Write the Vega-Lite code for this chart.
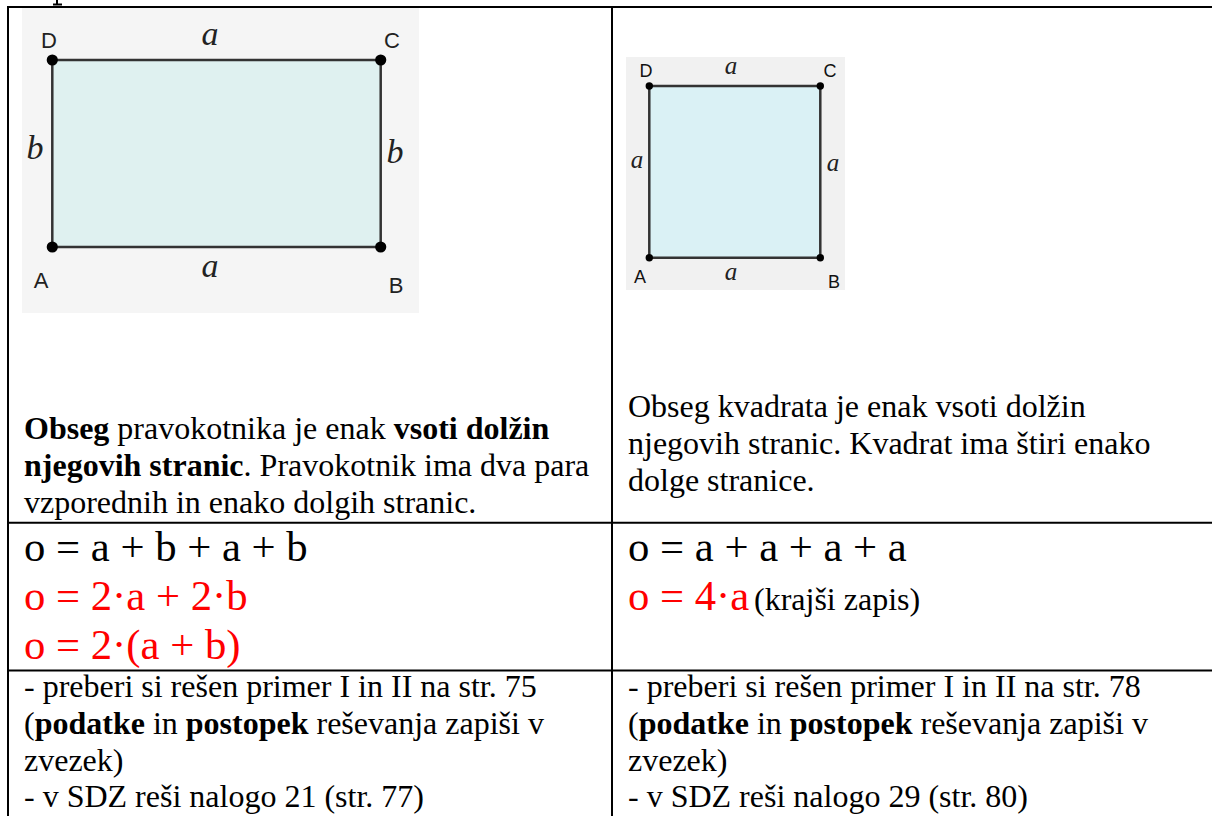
{
  "$schema": "https://vega.github.io/schema/vega-lite/v6.json",
  "width": 1212,
  "height": 816,
  "autosize": {"type": "none"},
  "padding": 0,
  "background": "white",
  "config": {"view": {"stroke": null}},
  "datasets": {
    "back1": [{"x": 22, "x2": 419, "y": 7, "y2": 313}],
    "back2": [{"x": 626, "x2": 845, "y": 57, "y2": 290}],
    "shape1": [{"x": 52.3, "x2": 380.7, "y": 60, "y2": 247}],
    "shape2": [{"x": 649.3, "x2": 820.3, "y": 86, "y2": 257.7}],
    "corners1": [
      {"x": 52.3, "y": 60},
      {"x": 380.7, "y": 60},
      {"x": 52.3, "y": 247},
      {"x": 380.7, "y": 247}
    ],
    "corners2": [
      {"x": 649.3, "y": 86},
      {"x": 820.3, "y": 86},
      {"x": 649.3, "y": 257.7},
      {"x": 820.3, "y": 257.7}
    ],
    "sans1": [
      {"x": 49, "y": 48, "text": "D"},
      {"x": 392, "y": 48, "text": "C"},
      {"x": 41, "y": 288, "text": "A"},
      {"x": 396, "y": 293, "text": "B"}
    ],
    "ital1": [
      {"x": 210, "y": 45, "text": "a"},
      {"x": 210, "y": 277, "text": "a"},
      {"x": 35, "y": 159, "text": "b"},
      {"x": 395, "y": 163, "text": "b"}
    ],
    "sans2": [
      {"x": 646, "y": 77, "text": "D"},
      {"x": 830, "y": 77, "text": "C"},
      {"x": 640, "y": 283, "text": "A"},
      {"x": 834, "y": 288, "text": "B"}
    ],
    "ital2": [
      {"x": 731, "y": 74, "text": "a"},
      {"x": 637, "y": 168, "text": "a"},
      {"x": 833, "y": 171, "text": "a"},
      {"x": 731, "y": 280, "text": "a"}
    ],
    "borders": [
      {"x": 7, "x2": 1212, "y": 7, "y2": 7},
      {"x": 8, "x2": 8, "y": 7, "y2": 816},
      {"x": 612, "x2": 612, "y": 7, "y2": 816},
      {"x": 8, "x2": 1212, "y": 522.7, "y2": 522.7},
      {"x": 8, "x2": 1212, "y": 670.5, "y2": 670.5},
      {"x": 57, "x2": 57, "y": 0, "y2": 5},
      {"x": 53, "x2": 62, "y": 4.5, "y2": 4.5}
    ],
    "body": [
      {"x": 117.3, "y": 439, "text": "pravokotnika je enak"},
      {"x": 243.6, "y": 476, "text": ". Pravokotnik ima dva para"},
      {"x": 24, "y": 513, "text": "vzporednih in enako dolgih stranic."},
      {"x": 628, "y": 417, "text": "Obseg kvadrata je enak vsoti dolžin"},
      {"x": 628, "y": 454, "text": "njegovih stranic. Kvadrat ima štiri enako"},
      {"x": 628, "y": 491, "text": "dolge stranice."},
      {"x": 754, "y": 610, "text": "(krajši zapis)"},
      {"x": 24, "y": 697, "text": "- preberi si rešen primer I in II na str. 75"},
      {"x": 24, "y": 734, "text": "("},
      {"x": 152.9, "y": 734, "text": "in"},
      {"x": 316.5, "y": 734, "text": "reševanja zapiši v"},
      {"x": 24, "y": 771, "text": "zvezek)"},
      {"x": 24, "y": 807, "text": "- v SDZ reši nalogo 21 (str. 77)"},
      {"x": 628, "y": 697, "text": "- preberi si rešen primer I in II na str. 78"},
      {"x": 628, "y": 734, "text": "("},
      {"x": 756.9, "y": 734, "text": "in"},
      {"x": 920.5, "y": 734, "text": "reševanja zapiši v"},
      {"x": 628, "y": 771, "text": "zvezek)"},
      {"x": 628, "y": 807, "text": "- v SDZ reši nalogo 29 (str. 80)"}
    ],
    "bold": [
      {"x": 24, "y": 439, "text": "Obseg"},
      {"x": 393.7, "y": 439, "text": "vsoti dolžin"},
      {"x": 24, "y": 476, "text": "njegovih stranic"},
      {"x": 34.7, "y": 734, "text": "podatke"},
      {"x": 185.8, "y": 734, "text": "postopek"},
      {"x": 638.7, "y": 734, "text": "podatke"},
      {"x": 789.8, "y": 734, "text": "postopek"}
    ],
    "formulaBlack": [
      {"x": 24, "y": 561, "text": "o = a + b + a + b"},
      {"x": 628, "y": 561, "text": "o = a + a + a + a"}
    ],
    "formulaRed": [
      {"x": 24, "y": 610, "text": "o = 2·a + 2·b"},
      {"x": 24, "y": 659, "text": "o = 2·(a + b)"},
      {"x": 628, "y": 610, "text": "o = 4·a"}
    ]
  },
  "encoding": {
    "x": {"field": "x", "type": "quantitative", "scale": {"domain": [0, 1212], "nice": false, "zero": false}, "axis": null},
    "y": {"field": "y", "type": "quantitative", "scale": {"domain": [0, 816], "nice": false, "zero": false, "reverse": true}, "axis": null}
  },
  "layer": [
    {
      "data": {"name": "back1"},
      "mark": {"type": "rect", "color": "#f5f5f5"},
      "encoding": {"x2": {"field": "x2"}, "y2": {"field": "y2"}}
    },
    {
      "data": {"name": "back2"},
      "mark": {"type": "rect", "color": "#f1f1f1"},
      "encoding": {"x2": {"field": "x2"}, "y2": {"field": "y2"}}
    },
    {
      "data": {"name": "shape1"},
      "mark": {"type": "rect", "fill": "#dff1f0", "stroke": "#333333", "strokeWidth": 2.5},
      "encoding": {"x2": {"field": "x2"}, "y2": {"field": "y2"}}
    },
    {
      "data": {"name": "shape2"},
      "mark": {"type": "rect", "fill": "#daf1f5", "stroke": "#333333", "strokeWidth": 2.5},
      "encoding": {"x2": {"field": "x2"}, "y2": {"field": "y2"}}
    },
    {
      "data": {"name": "corners1"},
      "mark": {"type": "circle", "color": "#000000", "opacity": 1, "size": 125}
    },
    {
      "data": {"name": "corners2"},
      "mark": {"type": "circle", "color": "#000000", "opacity": 1, "size": 55}
    },
    {
      "data": {"name": "sans1"},
      "mark": {"type": "text", "align": "center", "baseline": "alphabetic", "font": "Liberation Sans", "fontSize": 22, "color": "#222222"},
      "encoding": {"text": {"field": "text"}}
    },
    {
      "data": {"name": "ital1"},
      "mark": {"type": "text", "align": "center", "baseline": "alphabetic", "font": "Liberation Serif", "fontStyle": "italic", "fontSize": 34, "color": "#222222"},
      "encoding": {"text": {"field": "text"}}
    },
    {
      "data": {"name": "sans2"},
      "mark": {"type": "text", "align": "center", "baseline": "alphabetic", "font": "Liberation Sans", "fontSize": 18, "color": "#111111"},
      "encoding": {"text": {"field": "text"}}
    },
    {
      "data": {"name": "ital2"},
      "mark": {"type": "text", "align": "center", "baseline": "alphabetic", "font": "Liberation Serif", "fontStyle": "italic", "fontSize": 25, "color": "#222222"},
      "encoding": {"text": {"field": "text"}}
    },
    {
      "data": {"name": "borders"},
      "mark": {"type": "rule", "color": "#000000", "strokeWidth": 2},
      "encoding": {"x2": {"field": "x2"}, "y2": {"field": "y2"}}
    },
    {
      "data": {"name": "body"},
      "mark": {"type": "text", "align": "left", "baseline": "alphabetic", "font": "Liberation Serif", "fontSize": 32, "color": "#000000"},
      "encoding": {"text": {"field": "text"}}
    },
    {
      "data": {"name": "bold"},
      "mark": {"type": "text", "align": "left", "baseline": "alphabetic", "font": "Liberation Serif", "fontWeight": "bold", "fontSize": 32, "color": "#000000"},
      "encoding": {"text": {"field": "text"}}
    },
    {
      "data": {"name": "formulaBlack"},
      "mark": {"type": "text", "align": "left", "baseline": "alphabetic", "font": "Liberation Serif", "fontSize": 42.7, "color": "#000000"},
      "encoding": {"text": {"field": "text"}}
    },
    {
      "data": {"name": "formulaRed"},
      "mark": {"type": "text", "align": "left", "baseline": "alphabetic", "font": "Liberation Serif", "fontSize": 42.7, "color": "#ff0000"},
      "encoding": {"text": {"field": "text"}}
    }
  ]
}
